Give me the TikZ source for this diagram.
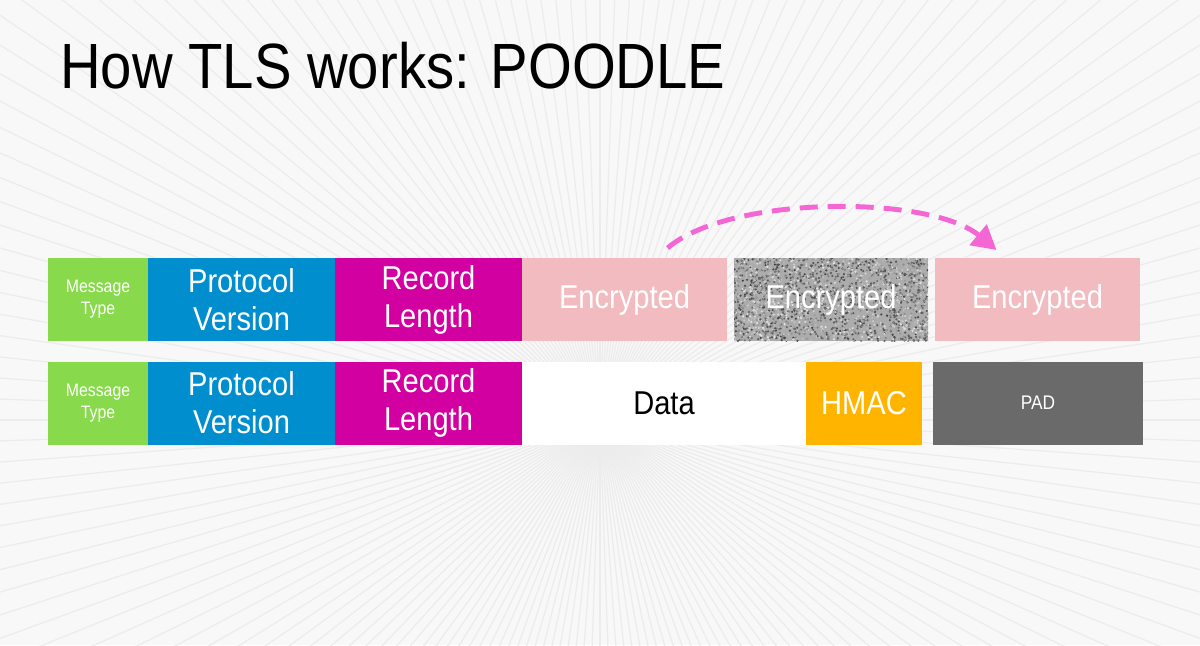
\documentclass[tikz,border=0pt]{standalone}
\usepackage{fontspec}
\setmainfont[FakeStretch=0.88]{Liberation Sans}
\usetikzlibrary{positioning, calc, arrows.meta}

\definecolor{bggray}{RGB}{248,248,248}
\definecolor{raygray}{RGB}{236,236,236}
\definecolor{typegreen}{RGB}{136,218,76}
\definecolor{protoblue}{RGB}{0,142,206}
\definecolor{lenmagenta}{RGB}{210,0,160}
\definecolor{encpink}{RGB}{241,187,191}
\definecolor{noisegray}{RGB}{172,172,172}
\definecolor{hmacorange}{RGB}{255,180,0}
\definecolor{padgray}{RGB}{106,106,106}
\definecolor{arrowpink}{RGB}{244,102,212}

\tikzset{
  field/.style={inner sep=0pt, outer sep=0pt, minimum height=2.075cm,
    text=white, align=center, font=\fontsize{23.5}{27}\selectfont},
  typefield/.style={field, fill=typegreen, minimum width=2.5cm,
    font=\fontsize{12.8}{15.5}\selectfont},
  protofield/.style={field, fill=protoblue, minimum width=4.675cm},
  lenfield/.style={field, fill=lenmagenta, minimum width=4.675cm},
  encfield/.style={field, fill=encpink, minimum width=5.125cm},
}

\begin{document}
\begin{tikzpicture}
\useasboundingbox (0,0) rectangle (30,-16.125);
%background
  \fill[bggray] (0,0) rectangle (30,-16.125);
  \begin{scope}
    \clip (0,0) rectangle (30,-16.125);
    \foreach \a in {0,2,...,358}
      \draw[raygray, line width=0.9pt] (15,-10.5) -- ++(\a:22);
  \end{scope}

%title
  \node[anchor=base west, inner sep=0pt, font=\fontsize{45.5}{50}\selectfont] (title)
    at (1.5,-2.2) {How TLS works: POODLE};

%encrypted record
  \node[typefield, anchor=west] (mt1) at (1.2,-7.4875) {Message\\Type};
  \node[protofield, right=0pt of mt1] (pv1) {Protocol\\Version};
  \node[lenfield, right=0pt of pv1] (rl1) {Record\\Length};
  \node[encfield, right=0pt of rl1] (enc1) {Encrypted};
  \node[encfield, fill=noisegray, minimum width=4.85cm, right=0.175cm of enc1,
    path picture={
      \foreach \k in {1,...,2400}{
        \pgfmathtruncatemacro{\g}{10+65*rnd}
        \fill[black!\g] ($(path picture bounding box.south west)+({4.9*rnd},{2.1*rnd})$) circle (0.03);
      }
    }] (enc2) {Encrypted};
  \node[encfield, right=0.175cm of enc2] (enc3) {Encrypted};

%plaintext record
  \node[typefield, anchor=west] (mt2) at (1.2,-10.075) {Message\\Type};
  \node[protofield, right=0pt of mt2] (pv2) {Protocol\\Version};
  \node[lenfield, right=0pt of pv2] (rl2) {Record\\Length};
  \node[field, fill=white, text=black, minimum width=7.1cm, right=0pt of rl2] (data) {Data};
  \node[field, fill=hmacorange, minimum width=2.9cm, right=0pt of data] (hmac) {HMAC};
  \node[field, fill=padgray, minimum width=5.25cm, right=0.275cm of hmac,
    font=\fontsize{14}{16}\selectfont] (pad) {PAD};

%block copy
  \coordinate (from) at ($(enc1.north west)!0.71!(enc1.north east)+(0,0.25)$);
  \coordinate (to) at ($(enc3.north west)!0.3!(enc3.north east)+(0,0.2)$);
  \draw[arrowpink, line width=3.5pt, dash pattern=on 0.45cm off 0.25cm,
    -{Triangle[length=0.6cm, width=0.65cm]}]
    (from) .. controls (18.25,-4.87) and (23.25,-4.87) .. (to);
\end{tikzpicture}
\end{document}
